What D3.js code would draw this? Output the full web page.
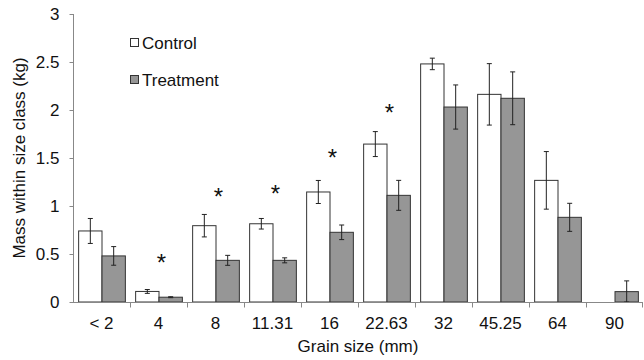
<!DOCTYPE html>
<html><head><meta charset="utf-8">
<script src="https://cdn.jsdelivr.net/npm/d3@7"></script>
<style>body{margin:0;background:#fff;} svg{display:block;font-family:"Liberation Sans",Arial,sans-serif;}</style>
</head><body>
<svg id="c" width="644" height="360"></svg>
<script>
const categories = ["< 2","4","8","11.31","16","22.63","32","45.25","64","90"];
const control    = [0.74,0.11,0.795,0.815,1.146,1.645,2.48,2.163,1.267,0];
const controlErr = [0.13,0.02,0.117,0.055,0.12,0.13,0.06,0.32,0.30,0];
const treatment    = [0.48,0.05,0.434,0.434,0.726,1.111,2.031,2.122,0.882,0.108];
const treatmentErr = [0.097,0.005,0.052,0.026,0.076,0.156,0.23,0.275,0.146,0.112];
const sigCats = ["4","8","11.31","16","22.63"];
const sigY    = [0.45,1.135,1.167,1.54,2.01];
const yTicks = [0,0.5,1,1.5,2,2.5,3];

const svg = d3.select("#c");
const x0 = 73, x1 = 643, yTop = 14, yBot = 302;
const FS = 17;
const x = d3.scaleBand().domain(categories).range([x0,x1]).paddingInner(0).paddingOuter(0);
const y = d3.scaleLinear().domain([0,3]).range([yBot,yTop]);
const sub = d3.scaleBand().domain(["c","t"]).range([0,x.bandwidth()]).paddingInner(0).paddingOuter(0.22);

const series = [
  {k:"c", vals:control, err:controlErr, fill:"#ffffff"},
  {k:"t", vals:treatment, err:treatmentErr, fill:"#969696"}
];
const bw = sub.bandwidth();
series.forEach(s=>{
  const g = svg.append("g");
  g.selectAll("rect").data(categories.map((c,i)=>({c,v:s.vals[i],e:s.err[i]})).filter(d=>d.v>0))
    .enter().append("rect")
    .attr("x",d=>x(d.c)+sub(s.k)+0.5)
    .attr("y",d=>y(d.v))
    .attr("width",bw)
    .attr("height",d=>yBot-y(d.v))
    .attr("fill",s.fill).attr("stroke","#333").attr("stroke-width",1);
  const eg = svg.append("g").attr("stroke","#222").attr("stroke-width",1);
  categories.forEach((c,i)=>{
    if(s.vals[i]<=0) return;
    const cx = x(c)+sub(s.k)+bw/2+0.5;
    const t = y(s.vals[i]+s.err[i]), b = y(Math.max(0,s.vals[i]-s.err[i]));
    eg.append("line").attr("x1",cx).attr("x2",cx).attr("y1",t).attr("y2",b);
    eg.append("line").attr("x1",cx-2.5).attr("x2",cx+2.5).attr("y1",t).attr("y2",t);
    eg.append("line").attr("x1",cx-2.5).attr("x2",cx+2.5).attr("y1",b).attr("y2",b);
  });
});

// significance stars
svg.append("g").selectAll("text").data(sigCats.map((c,i)=>({c,v:sigY[i]}))).enter().append("text")
  .attr("x",d=>x(d.c)+x.bandwidth()/2+3)
  .attr("y",d=>y(d.v)+12)
  .attr("text-anchor","middle").attr("font-size",24).attr("fill","#111")
  .text("*");

// axes
const axCol = "#888";
const yAxis = svg.append("g").attr("transform",`translate(${x0+0.5},0)`)
  .call(d3.axisLeft(y).tickValues(yTicks).tickSize(4).tickPadding(10).tickFormat(d3.format("")));
yAxis.select(".domain").attr("stroke",axCol).attr("d",`M0,${yTop}V${yBot}`);
yAxis.selectAll(".tick line").attr("stroke",axCol);
yAxis.selectAll("text").attr("font-size",FS).attr("fill","#111").attr("font-family","Liberation Sans, Arial, sans-serif");

const xAxis = svg.append("g").attr("transform",`translate(0,${yBot+0.5})`);
xAxis.append("line").attr("x1",x0).attr("x2",x1).attr("stroke",axCol);
xAxis.selectAll(".tk").data(categories.slice(1)).enter().append("line")
  .attr("x1",d=>Math.round(x(d))+0.5).attr("x2",d=>Math.round(x(d))+0.5).attr("y1",0).attr("y2",5).attr("stroke",axCol);
xAxis.append("line").attr("x1",x1-0.5).attr("x2",x1-0.5).attr("y1",0).attr("y2",5).attr("stroke",axCol);
xAxis.selectAll("text").data(categories).enter().append("text")
  .attr("x",d=>x(d)+x.bandwidth()/2).attr("y",26)
  .attr("text-anchor","middle").attr("font-size",FS).attr("fill","#111").text(d=>d);

svg.append("text").attr("x",358).attr("y",352).attr("text-anchor","middle")
  .attr("font-size",FS).attr("fill","#111").text("Grain size (mm)");
svg.append("text").attr("transform","translate(25,158) rotate(-90)").attr("text-anchor","middle")
  .attr("font-size",FS).attr("fill","#111").text("Mass within size class (kg)");

// legend
const leg = [{n:"Control",f:"#ffffff",yy:43},{n:"Treatment",f:"#969696",yy:80}];
const lg = svg.append("g");
leg.forEach(l=>{
  lg.append("rect").attr("x",130.5).attr("y",l.yy-4.5).attr("width",8).attr("height",8)
    .attr("fill",l.f).attr("stroke","#333");
  lg.append("text").attr("x",142).attr("y",l.yy+6).attr("font-size",FS).attr("fill","#111").text(l.n);
});
</script>
</body></html>
